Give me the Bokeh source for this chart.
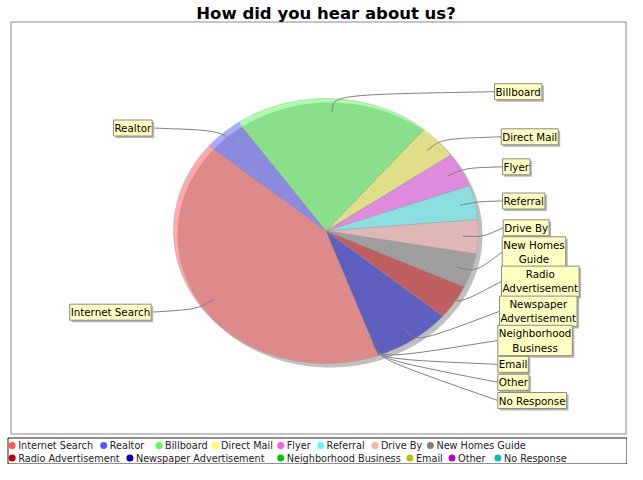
import numpy as np
from bokeh.plotting import figure
from bokeh.models import Range1d, ColumnDataSource
from bokeh.core.properties import value
from bokeh.embed import file_html
from bokeh.resources import INLINE

# ---------------- data ----------------
categories = ["Internet Search", "Realtor", "Billboard", "Direct Mail", "Flyer",
              "Referral", "Drive By", "New Homes Guide", "Radio Advertisement",
              "Newspaper Advertisement", "Neighborhood Business", "Email", "Other",
              "No Response"]
responses = [10, 1, 5, 1, 1, 1, 1, 1, 1, 2, 0, 0, 0, 0]
slice_labels = ["Internet Search", "Realtor", "Billboard", "Direct Mail", "Flyer",
                "Referral", "Drive By", "New Homes\nGuide", "Radio\nAdvertisement",
                "Newspaper\nAdvertisement", "Neighborhood\nBusiness", "Email", "Other",
                "No Response"]
paints = ["#FF5555", "#5555FF", "#55FF55", "#FFFF55", "#FF55FF", "#55FFFF",
          "#FFAFAF", "#808080", "#C00000", "#0000C0", "#00C000", "#C0C000",
          "#C000C0", "#00C0C0"]
chart_title = "How did you hear about us?"

# ---------------- layout (pixel coords, y downwards) ----------------
W, H = 627, 464
CX, CY = 325.5, 230.5
RX, RY = 152.5, 132.5
START_DEG = -70.0
SHADOW_OFF = 4
LINK_IN, LINK_ELBOW = 0.9, 1.03
FONT = value("DejaVu Sans")

label_side = ["L", "L", "R", "R", "R", "R", "R", "R", "R", "R", "R", "R", "R", "R"]
label_edge_x = [150.7, 151.7, 494.0, 500.7, 502.0, 502.0, 502.7, 501.7, 501.0,
                499.0, 497.3, 497.3, 497.3, 497.3]
label_mid_y = [311.7, 127.5, 91.2, 136.3, 166.3, 200.5, 227.3, 251.5, 280.8,
               310.8, 340.0, 363.8, 381.8, 400.0]

legend_row = [0, 0, 0, 0, 0, 0, 0, 0, 1, 1, 1, 1, 1, 1]
legend_marker_x = [11.7, 103.2, 158.5, 214.6, 280.2, 320.1, 374.4, 429.9,
                   11.7, 129.4, 280.2, 409.4, 451.5, 497.4]
legend_row_y = [445.0, 457.5]

total = float(sum(responses))
deg_per = 360.0 / total


def ell(t_deg, f=1.0, dx=0.0, dy=0.0):
    t = np.radians(t_deg)
    return CX + dx + f * RX * np.cos(t), CY + dy - f * RY * np.sin(t)


p = figure(width=W, height=H, x_range=Range1d(0, W), y_range=Range1d(H, 0),
           output_backend="svg", toolbar_location=None, tools="",
           x_axis_location=None, y_axis_location=None, min_border=0,
           outline_line_color=None, background_fill_color="white",
           border_fill_color="white")
p.xgrid.visible = False
p.ygrid.visible = False

# plot frame
p.quad(left=[10.5], right=[625.5], top=[21.5], bottom=[433.5],
       fill_color=None, line_color="#8A8A8A", line_width=1)

# shadow
ts = np.linspace(0, 360, 240)
sx, sy = ell(ts, 1.0, SHADOW_OFF, SHADOW_OFF)
p.patch(list(sx), list(sy), fill_color="#808080", fill_alpha=0.5, line_color=None)

# slices
xs, ys, cols = [], [], []
cum = 0
mids = []
for v, c in zip(responses, paints):
    a0 = START_DEG - cum * deg_per
    a1 = a0 - v * deg_per
    mids.append(START_DEG - (cum + v / 2.0) * deg_per)
    cum += v
    if v == 0:
        continue
    tt = np.linspace(a0, a1, max(8, int(v * 12)))
    px, py = ell(tt)
    xs.append([CX] + list(px))
    ys.append([CY] + list(py))
    cols.append(c)
p.patches(xs, ys, fill_color=cols, fill_alpha=0.5, line_color="#9A9A9A",
          line_alpha=0.6, line_width=0.6)

# leader lines
x0, y0, x1, y1, c0x, c0y = [], [], [], [], [], []
for m, lx, ly in zip(mids, label_edge_x, label_mid_y):
    ax, ay = ell(m, LINK_IN)
    ex, ey = ell(m, LINK_ELBOW)
    x0.append(ax); y0.append(ay)
    x1.append(lx); y1.append(ly)
    c0x.append(ex); c0y.append(ey)
p.bezier(x0=x0, y0=y0, x1=x1, y1=y1, cx0=c0x, cy0=c0y, cx1=c0x, cy1=c0y,
         line_color="#808080", line_width=1)

# labels
for side, anc in (("R", "center_left"), ("L", "center_right")):
    idx = [i for i, s in enumerate(label_side) if s == side]
    src = ColumnDataSource(dict(
        x=[label_edge_x[i] for i in idx],
        y=[label_mid_y[i] for i in idx],
        sx=[label_edge_x[i] + 2 for i in idx],
        sy=[label_mid_y[i] + 2 for i in idx],
        text=[slice_labels[i] for i in idx]))
    p.text(x="sx", y="sy", text="text", source=src, text_font=FONT,
           text_font_size="10.3px", text_alpha=0, text_align="center",
           text_baseline="middle", anchor=value(anc), padding=(1, 2),
           background_fill_color="#B4B4B4", border_line_color=None)
    p.text(x="x", y="y", text="text", source=src, text_font=FONT,
           text_font_size="10.3px", text_color="black", text_align="center",
           text_baseline="middle", anchor=value(anc), padding=(1, 2),
           background_fill_color="#FFFFC0", border_line_color="#8C8C8C",
           border_line_width=1)

# title
p.text(x=[CX], y=[12.5], text=[chart_title], text_font=FONT,
       text_font_size="16.5px", text_font_style="bold", text_align="center",
       text_baseline="middle", text_color="black")

# legend
p.quad(left=[7.5], right=[626.5], top=[437.5], bottom=[463.5],
       fill_color=None, line_color="#202020", line_width=1)
ly = [legend_row_y[r] for r in legend_row]
p.scatter(x=legend_marker_x, y=ly, marker="circle", size=7, fill_color=paints,
          line_color=None)
p.text(x=[x + 6 for x in legend_marker_x], y=ly, text=categories, text_font=FONT,
       text_font_size="9.7px", text_align="left", text_baseline="middle",
       text_color="#222222")

open("out.html", "w").write(file_html(p, INLINE))
